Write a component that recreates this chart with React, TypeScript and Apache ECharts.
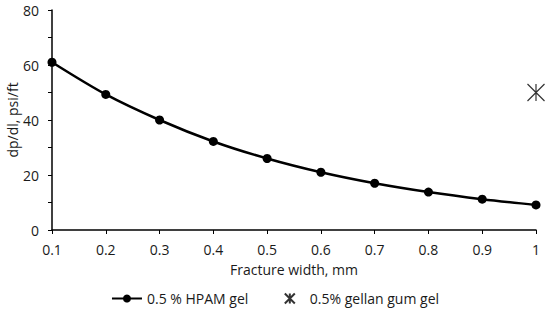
import React, { useEffect, useRef } from "react";
import * as echarts from "echarts";

const widths = [0.1, 0.2, 0.3, 0.4, 0.5, 0.6, 0.7, 0.8, 0.9, 1.0];
const hpam = [61, 49.3, 40, 32.2, 26, 21, 17, 13.8, 11.2, 9.1];
const gellanX = [1.0];
const gellanY = [50];
const seriesNames = ["0.5 % HPAM gel", "0.5% gellan gum gel"];

const FONT = "'Open Sans', 'Liberation Sans', sans-serif";
const STAR = "path://M0,0 L16,16 M16,0 L0,16 M8,0 L8,16";
const TXT = "#1a1a1a";

export default function App() {
  const ref = useRef<HTMLDivElement>(null);
  useEffect(() => {
    const chart = echarts.init(ref.current!, null, { renderer: "svg" });
    chart.setOption({
      animation: false,
      backgroundColor: "#fff",
      textStyle: { fontFamily: FONT },
      grid: { left: 52, right: 14, top: 10, bottom: 98, containLabel: false, outerBoundsMode: "none" },
      xAxis: {
        type: "value",
        min: 0.1,
        max: 1,
        interval: 0.1,
        name: "Fracture width, mm",
        nameLocation: "middle",
        nameGap: 32,
        nameMoveOverlap: false,
        nameTextStyle: { color: TXT, fontSize: 14, fontFamily: FONT },
        axisLine: { lineStyle: { color: "#000", width: 1.5 } },
        axisTick: { show: true, length: 4, lineStyle: { color: "#000" } },
        axisLabel: {
          color: TXT,
          fontSize: 14,
          margin: 12,
          formatter: (v: number) => String(Math.round(v * 10) / 10),
        },
        splitLine: { show: false },
      },
      yAxis: {
        type: "value",
        min: 0,
        max: 80,
        interval: 20,
        name: "dp/dl, psi/ft",
        nameLocation: "middle",
        nameGap: 33,
        nameMoveOverlap: false,
        nameTextStyle: { color: TXT, fontSize: 14, fontFamily: FONT },
        axisLine: { show: true, lineStyle: { color: "#000", width: 1.5 } },
        axisTick: { show: true, length: 4, lineStyle: { color: "#000" } },
        minorTick: { show: true, splitNumber: 2, length: 4, lineStyle: { color: "#000" } },
        axisLabel: { color: TXT, fontSize: 14, margin: 13 },
        splitLine: { show: false },
      },
      legend: {
        bottom: 17,
        left: "center",
        itemGap: 34,
        itemWidth: 30,
        itemHeight: 10,
        textStyle: { color: TXT, fontSize: 14, fontFamily: FONT },
        data: [
          { name: seriesNames[0] },
          { name: seriesNames[1], icon: STAR, itemStyle: { color: "none", borderColor: "#000", borderWidth: 2 } },
        ],
      },
      series: [
        {
          name: seriesNames[0],
          type: "line",
          smooth: 0.3,
          data: widths.map((w, i) => [w, hpam[i]]),
          symbol: "circle",
          symbolSize: 9,
          lineStyle: { color: "#000", width: 2.5 },
          itemStyle: { color: "#000" },
        },
        {
          name: seriesNames[1],
          type: "scatter",
          data: gellanX.map((x, i) => [x, gellanY[i]]),
          symbol: STAR,
          symbolSize: 17,
          itemStyle: { color: "none", borderColor: "#000", borderWidth: 1.2 },
        },
      ],
    });
    return () => chart.dispose();
  }, []);
  return <div ref={ref} style={{ position: "absolute", left: 0, top: 0, width: 550, height: 328 }} />;
}
